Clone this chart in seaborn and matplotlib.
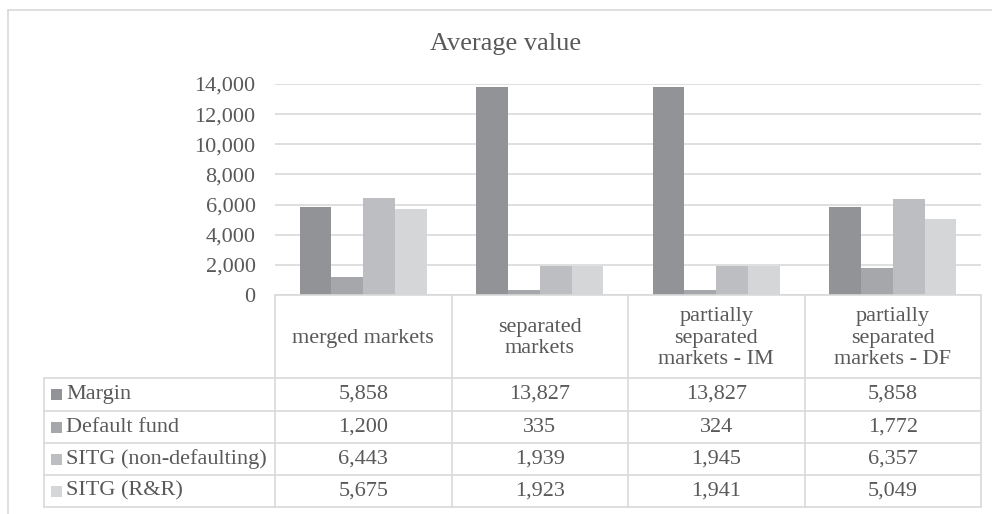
import matplotlib
matplotlib.use("Agg")
import matplotlib.pyplot as plt
import seaborn as sns
import pandas as pd
from matplotlib.patches import Rectangle

# ---- data -------------------------------------------------------------
categories = ["merged markets", "separated markets",
              "partially separated markets - IM", "partially separated markets - DF"]
header_labels = ["merged markets", "separated\nmarkets",
                 "partially\nseparated\nmarkets - IM", "partially\nseparated\nmarkets - DF"]
series = ["Margin", "Default fund", "SITG (non-defaulting)", "SITG (R&R)"]
margin = [5858, 13827, 13827, 5858]
default_fund = [1200, 335, 324, 1772]
sitg_non_defaulting = [6443, 1939, 1945, 6357]
sitg_rr = [5675, 1923, 1941, 5049]
yticks = [0, 2000, 4000, 6000, 8000, 10000, 12000, 14000]

values = [margin, default_fund, sitg_non_defaulting, sitg_rr]
colors = ["#929397", "#a6a7aa", "#bdbec1", "#d5d6d8"]

rows = []
for s, vals in zip(series, values):
    for c, v in zip(categories, vals):
        rows.append({"category": c, "series": s, "value": v})
df = pd.DataFrame(rows)

# ---- figure ------------------------------------------------------------
W, H = 992, 514
DPI = 100
sns.set_theme(style="white")
plt.rcParams["font.family"] = ["Liberation Serif", "DejaVu Serif"]
TXT = "#595959"
GRID = "#d9d9d9"
FS = 16

fig = plt.figure(figsize=(W / DPI, H / DPI), dpi=DPI)
fig.patch.set_facecolor("white")

plot_l, plot_r, plot_t, plot_b = 275, 981, 84, 295
ax = fig.add_axes([plot_l / W, 1 - plot_b / H, (plot_r - plot_l) / W, (plot_b - plot_t) / H])

sns.barplot(data=df, x="category", y="value", hue="series", order=categories,
            hue_order=series, palette=colors, width=0.72, gap=0,
            saturation=1, legend=False, ax=ax, linewidth=0)

ax.set_xlim(-0.5, len(categories) - 0.5)
ax.set_ylim(0, 14000)
ax.set_yticks(yticks)
ax.set_yticklabels([f"{t:,}" for t in yticks], color=TXT, fontsize=FS)
ax.tick_params(axis="y", length=0, pad=14)
ax.set_xticks([])
ax.set_xlabel("")
ax.set_ylabel("")
ax.yaxis.grid(True, color=GRID, linewidth=1.2)
ax.set_axisbelow(True)
for sp in ax.spines.values():
    sp.set_visible(False)

# ---- overlay in pixel coordinates for frame, title and data table -------
ov = fig.add_axes([0, 0, 1, 1])
ov.set_xlim(0, W)
ov.set_ylim(H, 0)
ov.axis("off")
ov.patch.set_visible(False)

# outer chart frame
ov.plot([8, 8], [10, H + 5], color=GRID, lw=1.2)
ov.plot([8, W + 5], [10, 10], color=GRID, lw=1.2)

ov.text(506, 44, "Average value", ha="center", va="center",
        fontsize=19, color=TXT)

col_w = (plot_r - plot_l) / len(categories)
col_edges = [plot_l + i * col_w for i in range(len(categories) + 1)]
table_l = 44
row_edges = [378, 411, 443, 475, 507]

# horizontal rules
ov.plot([plot_l, plot_r], [plot_b, plot_b], color=GRID, lw=1.2)
for y in row_edges:
    ov.plot([table_l, plot_r], [y, y], color=GRID, lw=1.2)
# vertical rules
for x in col_edges:
    ov.plot([x, x], [plot_b, row_edges[-1]], color=GRID, lw=1.2)
ov.plot([table_l, table_l], [row_edges[0], row_edges[-1]], color=GRID, lw=1.2)

# column headers
for i, lab in enumerate(header_labels):
    xc = (col_edges[i] + col_edges[i + 1]) / 2
    ov.text(xc, 338, lab, ha="center", va="center",
            fontsize=FS, color=TXT, linespacing=1.15)

# data rows with legend keys
for r, (s, vals, col) in enumerate(zip(series, values, colors)):
    yc = (row_edges[r] + row_edges[r + 1]) / 2
    ov.add_patch(Rectangle((51, yc - 5.5), 11, 11, facecolor=col, edgecolor="none"))
    ov.text(66, yc, s, ha="left", va="center", fontsize=FS, color=TXT)
    for i, v in enumerate(vals):
        xc = (col_edges[i] + col_edges[i + 1]) / 2
        ov.text(xc, yc, f"{v:,}", ha="center", va="center", fontsize=FS, color=TXT)

fig.savefig("out.png", dpi=DPI)
